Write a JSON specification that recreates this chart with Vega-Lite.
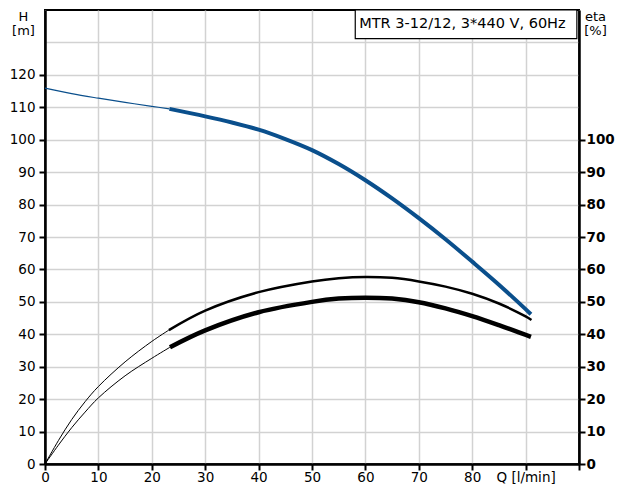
{
  "$schema": "https://vega.github.io/schema/vega-lite/v6.json",
  "width": 534,
  "height": 454,
  "autosize": "none",
  "padding": {"left": 45, "top": 10, "right": 40, "bottom": 25},
  "background": "white",
  "config": {
    "font": "DejaVu Sans",
    "view": {"stroke": "black", "strokeWidth": 2},
    "axis": {
      "labelFont": "DejaVu Sans",
      "titleFont": "DejaVu Sans",
      "labelFontSize": 13.5,
      "titleFontSize": 13,
      "labelColor": "black",
      "titleColor": "black",
      "titleFontWeight": "normal",
      "domainColor": "black",
      "domainWidth": 2.5,
      "tickColor": "black",
      "tickWidth": 2,
      "tickSize": 6,
      "gridColor": "#d2d2d2",
      "gridWidth": 1.5,
      "gridOpacity": 1
    }
  },
  "datasets": {
    "curves": [
      {"Q": 0, "value": 115.9, "curve": "H", "line": "H ext"},
      {"Q": 5, "value": 114.2, "curve": "H", "line": "H ext"},
      {"Q": 10, "value": 112.8, "curve": "H", "line": "H ext"},
      {"Q": 15, "value": 111.5, "curve": "H", "line": "H ext"},
      {"Q": 20, "value": 110.3, "curve": "H", "line": "H ext"},
      {"Q": 23.3, "value": 109.5, "curve": "H", "line": "H ext"},
      {"Q": 23.3, "value": 109.5, "curve": "H", "line": "H"},
      {"Q": 30, "value": 107.2, "curve": "H", "line": "H"},
      {"Q": 35, "value": 105.3, "curve": "H", "line": "H"},
      {"Q": 40, "value": 103.1, "curve": "H", "line": "H"},
      {"Q": 45, "value": 100.2, "curve": "H", "line": "H"},
      {"Q": 50, "value": 96.8, "curve": "H", "line": "H"},
      {"Q": 55, "value": 92.5, "curve": "H", "line": "H"},
      {"Q": 60, "value": 87.5, "curve": "H", "line": "H"},
      {"Q": 65, "value": 81.9, "curve": "H", "line": "H"},
      {"Q": 70, "value": 75.8, "curve": "H", "line": "H"},
      {"Q": 75, "value": 69.3, "curve": "H", "line": "H"},
      {"Q": 80, "value": 62.4, "curve": "H", "line": "H"},
      {"Q": 85, "value": 55.3, "curve": "H", "line": "H"},
      {"Q": 91, "value": 46.2, "curve": "H", "line": "H"},
      {"Q": 0, "value": 0, "curve": "eta", "line": "eta pump ext"},
      {"Q": 2.5, "value": 7.2, "curve": "eta", "line": "eta pump ext"},
      {"Q": 5, "value": 13.7, "curve": "eta", "line": "eta pump ext"},
      {"Q": 7.5, "value": 19.2, "curve": "eta", "line": "eta pump ext"},
      {"Q": 10, "value": 23.9, "curve": "eta", "line": "eta pump ext"},
      {"Q": 15, "value": 31.5, "curve": "eta", "line": "eta pump ext"},
      {"Q": 20, "value": 37.8, "curve": "eta", "line": "eta pump ext"},
      {"Q": 23.2, "value": 41.3, "curve": "eta", "line": "eta pump ext"},
      {"Q": 23.2, "value": 41.3, "curve": "eta", "line": "eta pump"},
      {"Q": 30, "value": 47.3, "curve": "eta", "line": "eta pump"},
      {"Q": 40, "value": 53.0, "curve": "eta", "line": "eta pump"},
      {"Q": 50, "value": 56.3, "curve": "eta", "line": "eta pump"},
      {"Q": 55, "value": 57.3, "curve": "eta", "line": "eta pump"},
      {"Q": 60, "value": 57.7, "curve": "eta", "line": "eta pump"},
      {"Q": 65, "value": 57.4, "curve": "eta", "line": "eta pump"},
      {"Q": 70, "value": 56.3, "curve": "eta", "line": "eta pump"},
      {"Q": 75, "value": 54.7, "curve": "eta", "line": "eta pump"},
      {"Q": 80, "value": 52.5, "curve": "eta", "line": "eta pump"},
      {"Q": 85, "value": 49.5, "curve": "eta", "line": "eta pump"},
      {"Q": 90, "value": 45.5, "curve": "eta", "line": "eta pump"},
      {"Q": 91.1, "value": 44.4, "curve": "eta", "line": "eta pump"},
      {"Q": 0, "value": 0, "curve": "eta", "line": "eta total ext"},
      {"Q": 2.5, "value": 5.8, "curve": "eta", "line": "eta total ext"},
      {"Q": 5, "value": 11.2, "curve": "eta", "line": "eta total ext"},
      {"Q": 7.5, "value": 16.0, "curve": "eta", "line": "eta total ext"},
      {"Q": 10, "value": 20.4, "curve": "eta", "line": "eta total ext"},
      {"Q": 15, "value": 27.2, "curve": "eta", "line": "eta total ext"},
      {"Q": 20, "value": 32.6, "curve": "eta", "line": "eta total ext"},
      {"Q": 23.4, "value": 36.0, "curve": "eta", "line": "eta total ext"},
      {"Q": 23.4, "value": 36.0, "curve": "eta", "line": "eta total"},
      {"Q": 30, "value": 41.2, "curve": "eta", "line": "eta total"},
      {"Q": 40, "value": 46.8, "curve": "eta", "line": "eta total"},
      {"Q": 50, "value": 50.0, "curve": "eta", "line": "eta total"},
      {"Q": 55, "value": 51.0, "curve": "eta", "line": "eta total"},
      {"Q": 60, "value": 51.3, "curve": "eta", "line": "eta total"},
      {"Q": 65, "value": 51.0, "curve": "eta", "line": "eta total"},
      {"Q": 70, "value": 49.9, "curve": "eta", "line": "eta total"},
      {"Q": 75, "value": 48.0, "curve": "eta", "line": "eta total"},
      {"Q": 80, "value": 45.6, "curve": "eta", "line": "eta total"},
      {"Q": 85, "value": 42.8, "curve": "eta", "line": "eta total"},
      {"Q": 91, "value": 39.2, "curve": "eta", "line": "eta total"}
    ],
    "box": [{"label": "MTR 3-12/12, 3*440 V, 60Hz"}]
  },
  "layer": [
    {
      "data": {"name": "curves"},
      "transform": [{"filter": "datum.line == 'H ext'"}],
      "mark": {"type": "line", "interpolate": "catmull-rom", "color": "#0a4f8c", "strokeWidth": 1.2, "strokeCap": "butt"},
      "encoding": {
        "x": {
          "field": "Q", "type": "quantitative", "title": null,
          "scale": {"domain": [0, 100], "nice": false, "zero": false},
          "axis": {
            "orient": "bottom", "title": null, "grid": true,
            "values": [0, 10, 20, 30, 40, 50, 60, 70, 80, 90, 100],
            "labelExpr": "datum.value == 90 ? 'Q [l/min]' : (datum.value == 100 ? '' : datum.label)",
            "labelPadding": 0, "labelFlush": false
          }
        },
        "y": {
          "field": "value", "type": "quantitative",
          "scale": {"domain": [0, 140], "nice": false},
          "axis": {
            "orient": "left", "grid": true,
            "values": [0, 10, 20, 30, 40, 50, 60, 70, 80, 90, 100, 110, 120, 130],
            "labelExpr": "datum.value == 130 ? '' : datum.label",
            "tickColor": {"condition": {"test": "datum.value == 130", "value": "transparent"}, "value": "black"},
            "labelPadding": 4, "labelFlush": false,
            "title": ["H", "[m]"], "titleAngle": 0, "titleAlign": "center",
            "titleBaseline": "top", "titleX": -22, "titleY": 0, "titleLineHeight": 14
          }
        }
      }
    },
    {
      "data": {"name": "curves"},
      "transform": [{"filter": "datum.line == 'H'"}],
      "mark": {"type": "line", "interpolate": "catmull-rom", "color": "#0a4f8c", "strokeWidth": 4, "strokeCap": "butt"},
      "encoding": {
        "x": {"field": "Q", "type": "quantitative", "title": null},
        "y": {"field": "value", "type": "quantitative", "axis": null}
      }
    },
    {
      "data": {"name": "curves"},
      "transform": [{"filter": "datum.line == 'eta pump ext' || datum.line == 'eta total ext'"}],
      "mark": {"type": "line", "interpolate": "catmull-rom", "color": "black", "strokeWidth": 1, "strokeCap": "butt"},
      "encoding": {
        "x": {"field": "Q", "type": "quantitative", "title": null},
        "y": {
          "field": "value", "type": "quantitative",
          "axis": {
            "orient": "right", "grid": false,
            "values": [0, 10, 20, 30, 40, 50, 60, 70, 80, 90, 100],
            "labelFontWeight": "bold", "labelPadding": 1, "labelFlush": false,
            "title": ["eta", "[%]"], "titleAngle": 0, "titleAlign": "center",
            "titleBaseline": "top", "titleX": 16, "titleY": 0, "titleLineHeight": 14
          }
        },
        "detail": {"field": "line"}
      }
    },
    {
      "data": {"name": "curves"},
      "transform": [{"filter": "datum.line == 'eta pump'"}],
      "mark": {"type": "line", "interpolate": "catmull-rom", "color": "black", "strokeWidth": 2.5, "strokeCap": "butt"},
      "encoding": {
        "x": {"field": "Q", "type": "quantitative", "title": null},
        "y": {"field": "value", "type": "quantitative", "axis": null}
      }
    },
    {
      "data": {"name": "curves"},
      "transform": [{"filter": "datum.line == 'eta total'"}],
      "mark": {"type": "line", "interpolate": "catmull-rom", "color": "black", "strokeWidth": 4.5, "strokeCap": "butt"},
      "encoding": {
        "x": {"field": "Q", "type": "quantitative", "title": null},
        "y": {"field": "value", "type": "quantitative", "axis": null}
      }
    },
    {
      "data": {"name": "box"},
      "mark": {"type": "rect", "fill": "white", "stroke": "black", "strokeWidth": 1.2},
      "encoding": {
        "x": {"datum": 58.1, "type": "quantitative", "title": null},
        "x2": {"datum": 99.6},
        "y": {"datum": 140, "type": "quantitative", "axis": null},
        "y2": {"datum": 131.2}
      }
    },
    {
      "data": {"name": "box"},
      "mark": {"type": "text", "align": "left", "baseline": "middle", "dx": 4, "fontSize": 14.5, "font": "DejaVu Sans", "color": "black"},
      "encoding": {
        "x": {"datum": 58.1, "type": "quantitative", "title": null},
        "y": {"datum": 135.6, "type": "quantitative", "axis": null},
        "text": {"field": "label"}
      }
    }
  ]
}
